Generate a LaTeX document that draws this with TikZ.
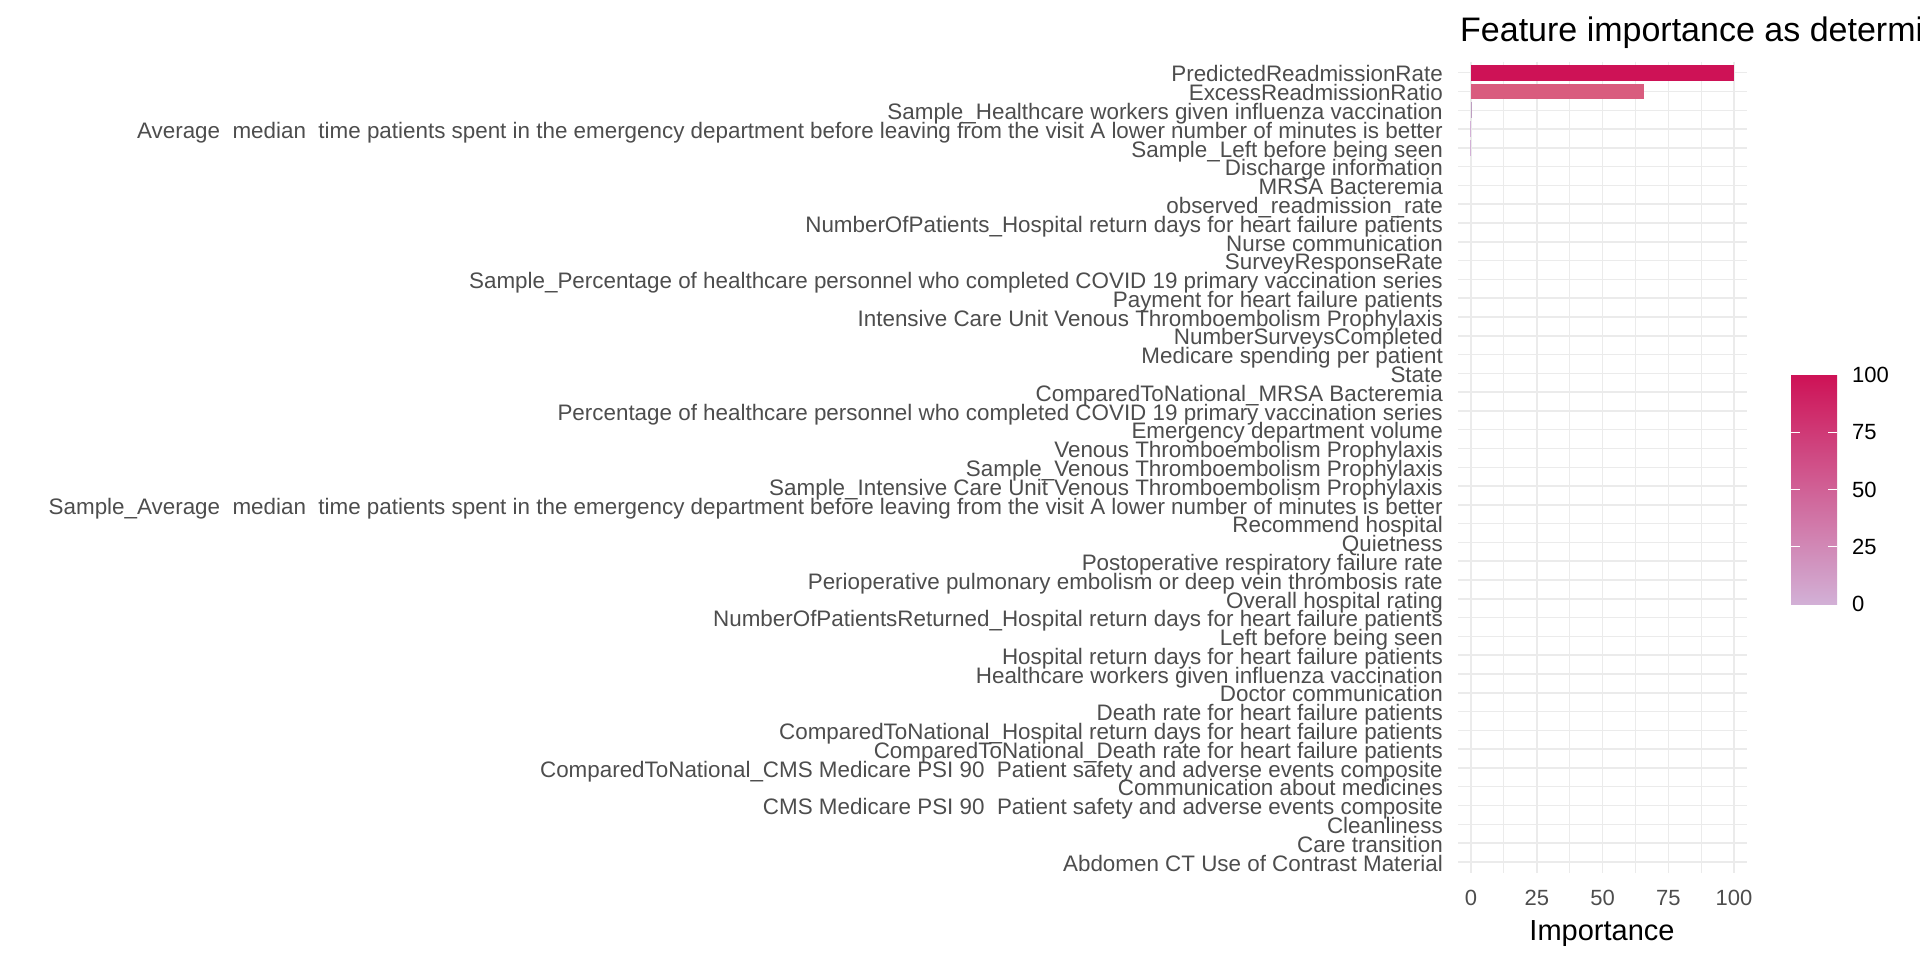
\documentclass[tikz,border=0pt]{standalone}
\usepackage{fontspec}
\setmainfont{Liberation Sans}
\definecolor{barhi}{HTML}{CE1256}
\definecolor{barmid}{HTML}{D95C7E}
\definecolor{barlo}{HTML}{D2B0D6}
\definecolor{gridc}{HTML}{EBEBEB}
\definecolor{axtext}{HTML}{4D4D4D}
\tikzset{
    ylab/.style = {anchor=base east, inner sep=0pt, text=axtext, font=\fontsize{22.4}{22.4}\selectfont},
    xlab/.style = {anchor=base, inner sep=0pt, text=axtext, font=\fontsize{22}{22}\selectfont},
    leglab/.style = {anchor=base west, inner sep=0pt, text=black, font=\fontsize{22}{22}\selectfont},
    gridmaj/.style = {draw=gridc, line width=1.5pt},
    gridmin/.style = {draw=gridc, line width=0.9pt},
    legtick/.style = {draw=white, line width=1pt},
}

\begin{document}
\begin{tikzpicture}[x=1pt,y=-1pt]
\useasboundingbox (0,0) rectangle (1920,960);
%
% panel grid
\foreach \v in {12.5,37.5,62.5,87.5} \draw[gridmin] (1471+2.63*\v,61.7) -- (1471+2.63*\v,872.7);
\foreach \v in {0,25,50,75,100} \draw[gridmaj] (1471+2.63*\v,61.7) -- (1471+2.63*\v,872.7);
\foreach \i in {0,...,42} \draw[gridmaj] (1458,72.7+18.79*\i) -- (1747,72.7+18.79*\i);
%
% bars
\fill[barhi] (1471,64.8) rectangle (1734,80.6);
\fill[barmid] (1471,83.6) rectangle (1644,99.4);
\fill[barlo!90!black] (1471,102.4) rectangle (1472.4,118.2);
\fill[barlo] (1470.2,121.2) rectangle (1471.4,137.0);
\fill[barlo] (1470.2,140.0) rectangle (1471.4,155.8);
%
% feature names
\foreach \lab [count=\i] in {PredictedReadmissionRate, ExcessReadmissionRatio,
    Sample\_Healthcare workers given influenza vaccination,
    Average\ \ median\ \ time patients spent in the emergency department before leaving from the visit A lower number of minutes is better,
    Sample\_Left before being seen, Discharge information, MRSA Bacteremia,
    observed\_readmission\_rate,
    NumberOfPatients\_Hospital return days for heart failure patients,
    Nurse communication, SurveyResponseRate,
    Sample\_Percentage of healthcare personnel who completed COVID 19 primary vaccination series,
    Payment for heart failure patients,
    Intensive Care Unit Venous Thromboembolism Prophylaxis,
    NumberSurveysCompleted, Medicare spending per patient, State,
    ComparedToNational\_MRSA Bacteremia,
    Percentage of healthcare personnel who completed COVID 19 primary vaccination series,
    Emergency department volume, Venous Thromboembolism Prophylaxis,
    Sample\_Venous Thromboembolism Prophylaxis,
    Sample\_Intensive Care Unit Venous Thromboembolism Prophylaxis,
    Sample\_Average\ \ median\ \ time patients spent in the emergency department before leaving from the visit A lower number of minutes is better,
    Recommend hospital, Quietness, Postoperative respiratory failure rate,
    Perioperative pulmonary embolism or deep vein thrombosis rate,
    Overall hospital rating,
    NumberOfPatientsReturned\_Hospital return days for heart failure patients,
    Left before being seen, Hospital return days for heart failure patients,
    Healthcare workers given influenza vaccination, Doctor communication,
    Death rate for heart failure patients,
    ComparedToNational\_Hospital return days for heart failure patients,
    ComparedToNational\_Death rate for heart failure patients,
    ComparedToNational\_CMS Medicare PSI 90\ \ Patient safety and adverse events composite,
    Communication about medicines,
    CMS Medicare PSI 90\ \ Patient safety and adverse events composite,
    Cleanliness, Care transition, Abdomen CT Use of Contrast Material}
    \node[ylab] (lab\i) at (1443,72.7+18.79*\i-18.79+9.2) {\lab};
%
% x axis
\foreach \v in {0,25,50,75,100} \node[xlab] (tick\v) at (1471+2.63*\v,905.7) {\v};
\node[anchor=base, inner sep=0pt, font=\fontsize{29}{29}\selectfont] (xtitle) at (1602,940) {Importance};
%
% title
\node[anchor=base west, inner sep=0pt, font=\fontsize{34}{34}\selectfont] (title) at (1460,42) {Feature importance as determi};
%
% legend
\shade[top color=barhi, bottom color=barlo] (1791,375) rectangle (1837,604);
\foreach \v in {25,50,75} {
    \draw[legtick] (1791,604-2.29*\v) -- (1800,604-2.29*\v);
    \draw[legtick] (1828,604-2.29*\v) -- (1837,604-2.29*\v);
}
\foreach \v in {0,25,50,75,100} \node[leglab] (leg\v) at (1852,604-2.29*\v+7.7) {\v};

\end{tikzpicture}
\end{document}
